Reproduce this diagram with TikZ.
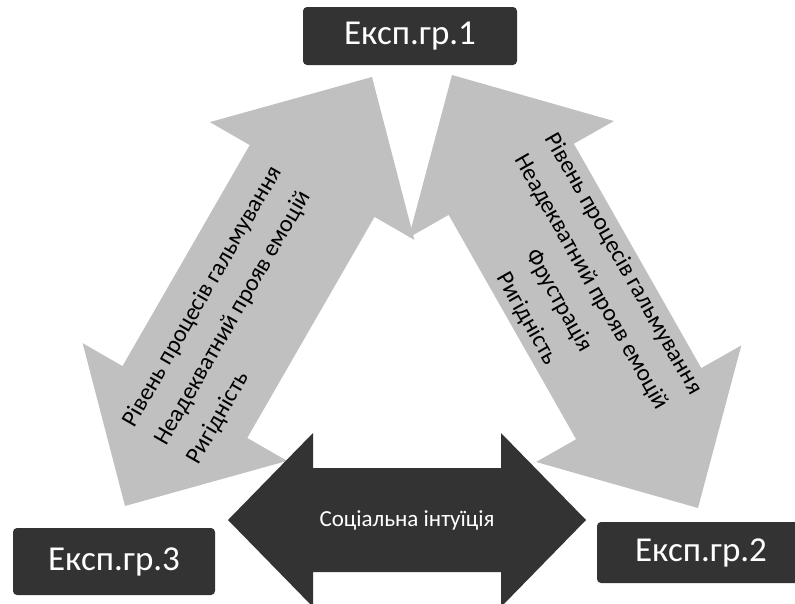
\documentclass[tikz,border=0pt]{standalone}
\usepackage{fontspec}
\setmainfont{Carlito}
\usetikzlibrary{calc}
\definecolor{darkfill}{HTML}{333333}
\definecolor{lightfill}{HTML}{C0C0C0}

% Filled double-headed block arrow between two tip coordinates.
% #1 fill options, #2 and #3 tip coordinates,
% #4 half shaft width, #5 half head width, #6 head length
\newcommand{\blockdouble}[6]{%
  \path ($(#2)!#6!(#3)$) coordinate (#2-base)
        ($(#3)!#6!(#2)$) coordinate (#3-base);
  \fill[#1] (#2)
    -- ($(#2-base)!#5!90:(#3)$) -- ($(#2-base)!#4!90:(#3)$)
    -- ($(#3-base)!#4!-90:(#2)$) -- ($(#3-base)!#5!-90:(#2)$)
    -- (#3)
    -- ($(#3-base)!#5!90:(#2)$) -- ($(#3-base)!#4!90:(#2)$)
    -- ($(#2-base)!#4!-90:(#3)$) -- ($(#2-base)!#5!-90:(#3)$)
    -- cycle;}

\tikzset{
  groupbox/.style={rectangle, rounded corners=4pt, fill=darkfill,
    text=white, inner sep=0pt, font=\fontsize{35}{42}\selectfont},
  armtext/.style={font=\fontsize{24}{37}\selectfont, text=black},
}

\begin{document}
\begin{tikzpicture}[x=1pt, y=-1pt]
  \useasboundingbox (0,0) rectangle (795,603);
  \clip (0,0) rectangle (795,603);

  % tips of the block arrows
  \coordinate (LA) at (372,77);
  \coordinate (LB) at (125,506);
  \coordinate (RA) at (452,75);
  \coordinate (RB) at (698,508);
  \coordinate (SA) at (228,520);
  \coordinate (SB) at (586,520);

  % grey links from group 1
  \blockdouble{lightfill}{LA}{LB}{72pt}{118pt}{120pt}
  \blockdouble{lightfill}{RA}{RB}{72pt}{118pt}{120pt}

  \path (LB) -- (LA)
    node[armtext, pos=0.445, sloped, align=left] (txtL)
    {Рівень процесів гальмування\\Неадекватний прояв емоцій\\Ригідність};
  \path (RA) -- (RB)
    node[armtext, pos=0.5, sloped, align=center] (txtR)
    {Рівень процесів гальмування\\Неадекватний прояв емоцій\\Фрустрація\\Ригідність};

  % dark link between groups 3 and 2
  \blockdouble{darkfill}{SA}{SB}{52pt}{87pt}{85pt}
  \node[text=white, font=\fontsize{23}{28}\selectfont] (social)
    at ($(SA)!0.5!(SB)$) {Соціальна інтуїція};

  % group boxes
  \node[groupbox, minimum width=214pt, minimum height=58pt] (g1) at (410,36) {Експ.гр.1};
  \node[groupbox, minimum width=202pt, minimum height=67pt] (g3) at (114,561.5) {Експ.гр.3};
  \node[groupbox, minimum width=208pt, minimum height=61pt] (g2) at (701,552.5) {Експ.гр.2};
\end{tikzpicture}
\end{document}
